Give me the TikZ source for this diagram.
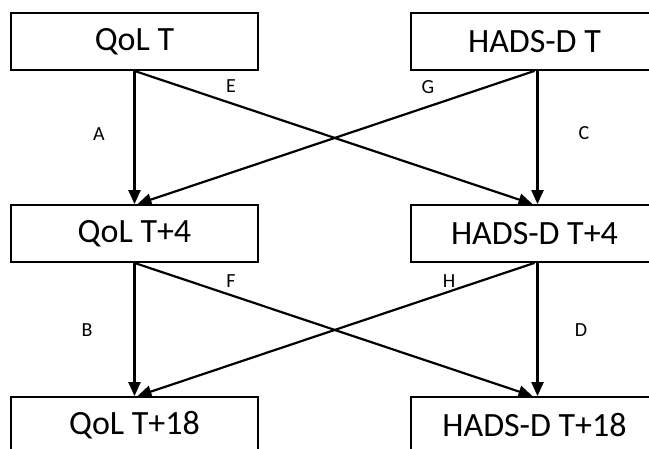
\documentclass[tikz,border=0pt]{standalone}
\usepackage{fontspec}
\setmainfont{Carlito}
\usetikzlibrary{arrows.meta}
\begin{document}
\begin{tikzpicture}[x=1pt,y=-1pt,
  box/.style={draw=black,line width=1.8pt,minimum width=247pt,minimum height=57pt,inner sep=0pt,font=\fontsize{34}{40}\selectfont},
  arr/.style={line width=2.2pt,-{Triangle[length=14pt,width=12pt]}},
  lbl/.style={font=\fontsize{20}{24}\selectfont,inner sep=0pt}]
\useasboundingbox (0,0) rectangle (649,448);
\node[box] (qt) at (134.5,41.5) {QoL T};
\node[box] (ht) at (534.5,41.5) {HADS-D T};
\node[box] (q4) at (134.5,233.5) {QoL T+4};
\node[box] (h4) at (534.5,233.5) {HADS-D T+4};
\node[box] (q18) at (134.5,425.5) {QoL T+18};
\node[box] (h18) at (534.5,425.5) {HADS-D T+18};
% top level
\draw[arr] (qt.south) -- (q4.north);
\draw[arr] (qt.south) -- ([xshift=-2pt]h4.north);
\draw[arr] ([xshift=3pt]ht.south) -- ([xshift=3pt]h4.north);
\draw[arr] (ht.south) -- ([xshift=3pt]q4.north);
% bottom level
\draw[arr] (q4.south) -- (q18.north);
\draw[arr] (q4.south) -- ([xshift=-2pt]h18.north);
\draw[arr] ([xshift=3pt]h4.south) -- ([xshift=3pt]h18.north);
\draw[arr] (h4.south) -- ([xshift=3pt]q18.north);
% labels
\node[lbl] (la) at (99,134) {A};
\node[lbl] (le) at (231,86) {E};
\node[lbl] (lg) at (428,87) {G};
\node[lbl] (lc) at (584,133) {C};
\node[lbl] (lb) at (87,330) {B};
\node[lbl] (lf) at (231,281) {F};
\node[lbl] (lh) at (449,281) {H};
\node[lbl] (ld) at (581,330) {D};
\end{tikzpicture}
\end{document}
